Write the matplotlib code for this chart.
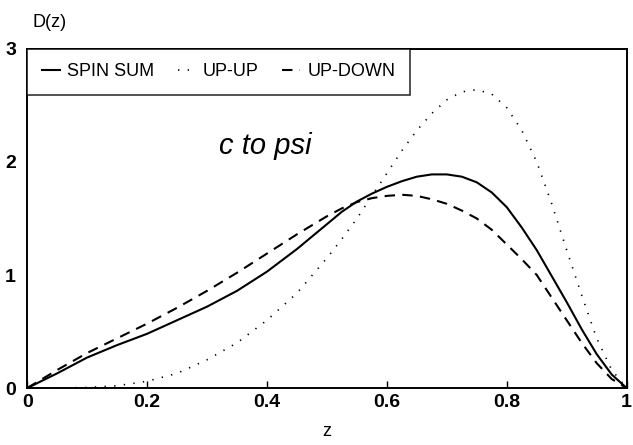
import matplotlib
matplotlib.use("Agg")
import matplotlib.pyplot as plt

plt.rcParams['font.family'] = ['Liberation Sans', 'DejaVu Sans']

z = [0.0, 0.05, 0.1, 0.15, 0.2, 0.25, 0.3, 0.35, 0.4, 0.45, 0.5,
     0.525, 0.55, 0.575, 0.6, 0.625, 0.65, 0.675, 0.7, 0.725, 0.75,
     0.775, 0.8, 0.825, 0.85, 0.875, 0.9, 0.925, 0.95, 0.975, 1.0]
spin_sum = [0.0, 0.13, 0.27, 0.38, 0.48, 0.60, 0.72, 0.86, 1.03, 1.23, 1.45,
            1.56, 1.65, 1.72, 1.78, 1.83, 1.87, 1.89, 1.89, 1.87, 1.82,
            1.73, 1.60, 1.42, 1.22, 0.99, 0.76, 0.52, 0.30, 0.12, 0.0]
up_up = [0.0, 0.0, 0.005, 0.02, 0.06, 0.13, 0.25, 0.40, 0.60, 0.84, 1.15,
         1.32, 1.50, 1.70, 1.90, 2.10, 2.28, 2.43, 2.55, 2.62, 2.64,
         2.60, 2.48, 2.28, 2.00, 1.63, 1.22, 0.82, 0.44, 0.16, 0.0]
up_down = [0.0, 0.16, 0.31, 0.44, 0.57, 0.71, 0.86, 1.02, 1.19, 1.36, 1.52,
           1.59, 1.645, 1.68, 1.70, 1.71, 1.70, 1.67, 1.63, 1.57, 1.50,
           1.40, 1.27, 1.14, 1.00, 0.80, 0.60, 0.40, 0.22, 0.08, 0.0]

xticks = [0, 0.2, 0.4, 0.6, 0.8, 1]
xticklabels = ['0', '0.2', '0.4', '0.6', '0.8', '1']
yticks = [0, 1, 2, 3]
yticklabels = ['0', '1', '2', '3']

fig = plt.figure(figsize=(6.33, 4.45), dpi=100)
ax = fig.add_axes([0.043, 0.128, 0.947, 0.762])

ax.plot(z, spin_sum, color='black', lw=1.5, ls='-', label='SPIN SUM')
ax.plot(z, up_up, color='black', lw=1.2, ls=(0, (0.8, 5)), label='UP-UP')
ax.plot(z, up_down, color='black', lw=1.5, ls=(0, (5, 3.5)), label='UP-DOWN')

ax.set_xlim(0, 1)
ax.set_ylim(0, 3)
ax.set_xticks(xticks)
ax.set_xticklabels(xticklabels, fontsize=14, fontweight='bold')
ax.set_yticks(yticks)
ax.set_yticklabels(yticklabels, fontsize=14, fontweight='bold')
ax.tick_params(axis='x', direction='in', length=5, width=1, pad=4)
ax.tick_params(axis='y', direction='in', length=0, pad=8)
for s in ax.spines.values():
    s.set_linewidth(1.4)
    s.set_color('black')

ax.set_xlabel('z', fontsize=13, labelpad=9)
fig.text(0.052, 0.95, 'D(z)', fontsize=13, ha='left', va='center')

ax.text(0.397, 2.07, 'c to psi', fontsize=21, style='italic', ha='center', va='baseline')

leg = ax.legend(loc='upper left', ncol=3, fontsize=13, handlelength=1.0,
                handletextpad=0.4, columnspacing=1.3, borderaxespad=0,
                fancybox=False, frameon=True, borderpad=0.8)
leg.get_frame().set_edgecolor('black')
leg.get_frame().set_linewidth(1.2)

fig.savefig('out.png', dpi=100)
